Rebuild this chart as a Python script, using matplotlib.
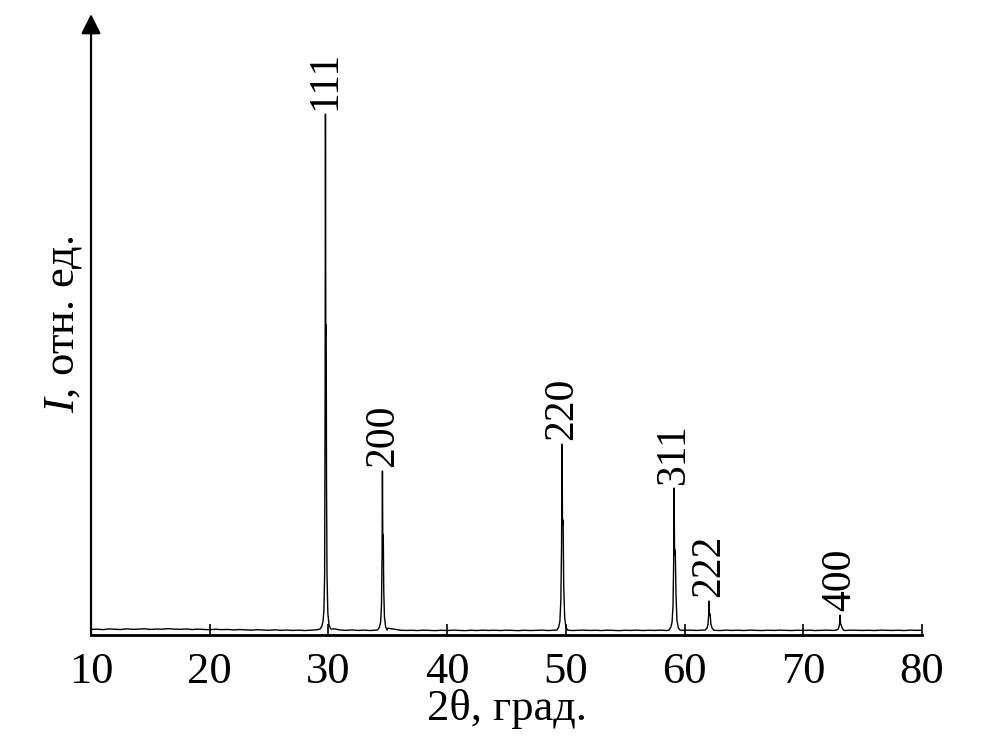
import numpy as np
import matplotlib
matplotlib.use('Agg')
import matplotlib.pyplot as plt

plt.rcParams['font.family'] = ['Liberation Serif', 'DejaVu Serif']
plt.rcParams['mathtext.fontset'] = 'custom'
plt.rcParams['mathtext.it'] = 'Liberation Serif:italic'
plt.rcParams['mathtext.rm'] = 'Liberation Serif'

#Baseline (background) sampled every 0.5 deg, 10..80
base_x = [10 + 0.5 * i for i in range(141)]
base_y = [5.6, 5.9, 5.4, 6.1, 5.8, 5.5, 6.2, 5.7, 5.9, 6.3, 5.6, 6.0, 5.8, 6.4, 5.9, 5.7,
          6.1, 5.5, 5.9, 5.6, 5.3, 5.8, 5.4, 5.6, 5.1, 5.5, 5.2, 4.9, 5.3, 5.0, 4.8, 5.2,
          4.7, 5.0, 4.6, 4.9, 4.5, 4.8, 5.2, 6.5, 8.0, 6.2, 5.0, 4.7, 5.1, 4.6, 4.9, 4.5,
          4.8, 5.2, 6.8, 6.0, 4.9, 4.6, 4.8, 4.5, 4.9, 4.6, 4.4, 4.8, 4.5, 4.9, 4.7, 4.4,
          4.8, 4.5, 4.9, 4.6, 4.8, 4.5, 4.9, 4.6, 4.4, 4.8, 4.5, 4.7, 4.9, 4.5, 4.8, 4.6,
          4.9, 4.5, 4.7, 4.9, 4.6, 4.8, 4.5, 4.9, 4.7, 4.4, 4.8, 4.6, 4.9, 4.5, 4.8, 4.6,
          4.9, 4.5, 4.8, 5.0, 4.7, 4.9, 4.6, 4.8, 5.0, 4.7, 4.5, 4.9, 4.6, 4.8, 4.5, 4.9,
          4.7, 4.5, 4.8, 4.6, 4.9, 4.7, 4.5, 4.8, 4.6, 4.9, 4.5, 4.7, 4.9, 4.6, 4.8, 4.5,
          4.9, 4.7, 4.6, 4.8, 4.5, 4.9, 4.7, 4.6, 4.8, 4.5, 4.9, 4.7, 4.8]

#Reflection profiles
p111_x = [29.30, 29.45, 29.55, 29.62, 29.68, 29.72, 29.75, 29.78, 29.81, 29.84, 29.88, 29.95, 30.05, 30.20]
p111_y = [6, 9, 14, 25, 60, 230, 521, 300, 310, 150, 60, 22, 10, 6]
p200_x = [34.15, 34.30, 34.40, 34.47, 34.52, 34.55, 34.58, 34.62, 34.66, 34.72, 34.82, 34.95]
p200_y = [5, 8, 13, 30, 80, 164, 95, 100, 45, 18, 8, 5]
p220_x = [49.25, 49.40, 49.50, 49.58, 49.64, 49.68, 49.72, 49.77, 49.82, 49.90, 50.00, 50.15]
p220_y = [5, 8, 14, 35, 90, 191, 110, 115, 50, 18, 8, 5]
p311_x = [58.70, 58.85, 58.95, 59.03, 59.08, 59.12, 59.16, 59.22, 59.28, 59.36, 59.48, 59.62]
p311_y = [5, 8, 13, 30, 70, 147, 80, 85, 40, 15, 7, 5]
p222_x = [61.75, 61.90, 61.98, 62.03, 62.06, 62.10, 62.15, 62.22, 62.32, 62.45]
p222_y = [5, 7, 11, 20, 34, 20, 21, 11, 7, 5]
p400_x = [72.80, 72.95, 73.03, 73.07, 73.10, 73.14, 73.20, 73.28, 73.40]
p400_y = [5, 6, 9, 13, 20, 11, 10, 7, 5]

peak_labels = ['111', '200', '220', '311', '222', '400']
peak_pos = [29.75, 34.55, 49.68, 59.12, 62.06, 73.10]
peak_top = [521, 164, 191, 147, 34, 20]

xticks = [20, 30, 40, 50, 60, 70, 80]
xticklabels = ['10', '20', '30', '40', '50', '60', '70', '80']

#Merge background and peaks
peaks = [(p111_x, p111_y), (p200_x, p200_y), (p220_x, p220_y),
         (p311_x, p311_y), (p222_x, p222_y), (p400_x, p400_y)]
xs, ys = [], []
for bx, by in zip(base_x, base_y):
    if not any(px[0] <= bx <= px[-1] for px, py in peaks):
        xs.append(bx)
        ys.append(by)
for px, py in peaks:
    xs += px
    ys += py
order = np.argsort(xs)
xs = np.array(xs)[order]
ys = np.array(ys)[order]

fig = plt.figure(figsize=(9.98, 7.41), dpi=100)
ax = fig.add_axes([0.0912, 0.143, 0.8326, 0.838])

ax.plot(xs, ys, color='black', lw=1.0)
ax.set_xlim(10, 80)
ax.set_ylim(0, 621)

ax.spines['top'].set_visible(False)
ax.spines['right'].set_visible(False)
ax.spines['left'].set_visible(False)
ax.spines['bottom'].set_linewidth(2)
ax.annotate('', xy=(0, 1), xytext=(0, 0), xycoords='axes fraction',
            arrowprops=dict(arrowstyle='-|>', color='black', lw=1.6,
                            mutation_scale=30, shrinkA=0, shrinkB=0),
            annotation_clip=False)

ax.set_xticks([10] + xticks)
ax.set_xticklabels(xticklabels)
ax.tick_params(axis='x', direction='in', length=8, width=1.2, labelsize=32, pad=12)
ax.set_yticks([])

for lab, px, py in zip(peak_labels, peak_pos, peak_top):
    ax.annotate(lab, xy=(px, py), xytext=(0, 3), textcoords='offset points',
                rotation=90, ha='center', va='bottom', fontsize=30)

ax.set_xlabel('2θ, град.', fontsize=32, labelpad=-2)
ax.set_ylabel('$I$, отн. ед.', fontsize=32)
ax.yaxis.set_label_coords(-0.008, 0.5)

plt.savefig('out.png', dpi=100)
